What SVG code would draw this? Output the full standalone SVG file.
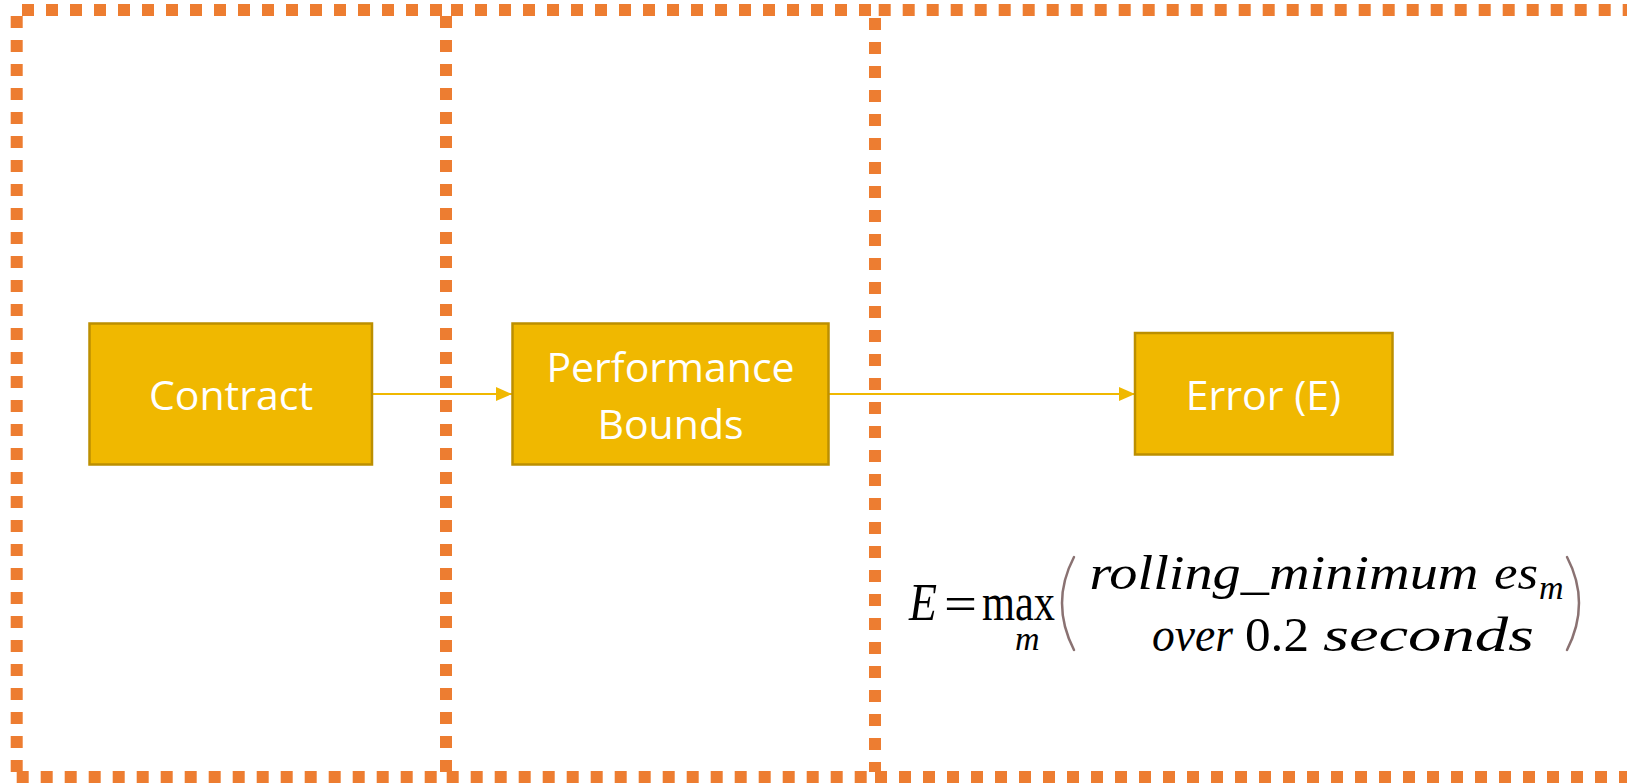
<svg xmlns="http://www.w3.org/2000/svg" width="1627" height="783" viewBox="0 0 1627 783">
  <style>
    .frame { stroke: #ED7D31; stroke-width: 12; stroke-dasharray: 12 12; fill: none; }
    .box { fill: #F0B800; stroke: #BC8F00; stroke-width: 2.5; }
    .label { font-family: "Open Sans", "Noto Sans", sans-serif; font-size: 41px; fill: #FFFFFF; text-anchor: middle; }
    .link { stroke: #F0B800; stroke-width: 2; fill: none; }
    .math { font-family: "Liberation Serif", "DejaVu Serif", serif; font-size: 48px; fill: #000000; }
    .big { font-size: 52px; }
    .sub { font-size: 34px; }
    .it { font-style: italic; }
    .paren { stroke: #8A7272; stroke-width: 2.5; fill: none; stroke-linecap: round; }
  </style>
  <defs>
    <marker id="arrow" viewBox="0 0 16 14" refX="16" refY="7" markerWidth="16" markerHeight="14" markerUnits="userSpaceOnUse" orient="auto">
      <path d="M0,0 L16,7 L0,14 Z" fill="#F0B800"/>
    </marker>
  </defs>

  <rect width="1627" height="783" fill="#FFFFFF"/>

  <!-- dotted swimlane frames -->
  <g id="frames">
    <g id="lane-1">
      <line class="frame" x1="22" y1="10" x2="446" y2="10"/>
      <line class="frame" x1="16.7" y1="16" x2="16.7" y2="772"/>
      <line class="frame" x1="446" y1="16" x2="446" y2="772"/>
      <line class="frame" x1="16.7" y1="777" x2="446" y2="777"/>
    </g>
    <g id="lane-2">
      <line class="frame" x1="451" y1="10" x2="875" y2="10"/>
      <line class="frame" x1="875" y1="18" x2="875" y2="772"/>
      <line class="frame" x1="446.7" y1="777" x2="875" y2="777"/>
    </g>
    <g id="lane-3">
      <line class="frame" x1="878.7" y1="10" x2="1640" y2="10"/>
      <line class="frame" x1="875" y1="777" x2="1640" y2="777"/>
    </g>
  </g>

  <!-- connectors -->
  <g id="connectors">
    <line class="link" x1="372" y1="394" x2="512" y2="394" marker-end="url(#arrow)"/>
    <line class="link" x1="829" y1="394" x2="1135" y2="394" marker-end="url(#arrow)"/>
  </g>

  <g id="node-contract">
    <rect class="box" x="89.5" y="323.5" width="282.5" height="141"/>
    <text class="label" x="231" y="410">Contract</text>
  </g>

  <g id="node-performance-bounds">
    <rect class="box" x="512.5" y="323.5" width="316" height="141"/>
    <text class="label" x="670.5" y="382">Performance</text>
    <text class="label" x="670.5" y="439">Bounds</text>
  </g>

  <g id="node-error">
    <rect class="box" x="1135" y="333" width="257.5" height="121.5"/>
    <text class="label" x="1263.5" y="410">Error (E)</text>
  </g>

  <!-- error formula -->
  <g id="formula">
    <text class="math it big" x="909" y="620" textLength="28" lengthAdjust="spacingAndGlyphs">E</text>
    <text class="math" x="944" y="620" textLength="33" lengthAdjust="spacingAndGlyphs">=</text>
    <text class="math big" x="982" y="620" textLength="73" lengthAdjust="spacingAndGlyphs">max</text>
    <text class="math it sub" x="1015" y="650">m</text>
    <path class="paren" d="M1074,557 Q1050,603 1074,650"/>
    <text class="math it" x="1089.5" y="589" textLength="389" lengthAdjust="spacingAndGlyphs">rolling_minimum</text>
    <text class="math it" x="1494" y="589" textLength="44" lengthAdjust="spacingAndGlyphs">es</text>
    <text class="math it sub" x="1539" y="599">m</text>
    <text class="math it" x="1152" y="651" textLength="81" lengthAdjust="spacingAndGlyphs">over</text>
    <text class="math" x="1245" y="651" textLength="64" lengthAdjust="spacingAndGlyphs">0.2</text>
    <text class="math it" x="1323" y="651" textLength="211" lengthAdjust="spacingAndGlyphs">seconds</text>
    <path class="paren" d="M1567,557 Q1591,603 1567,650"/>
  </g>
</svg>
